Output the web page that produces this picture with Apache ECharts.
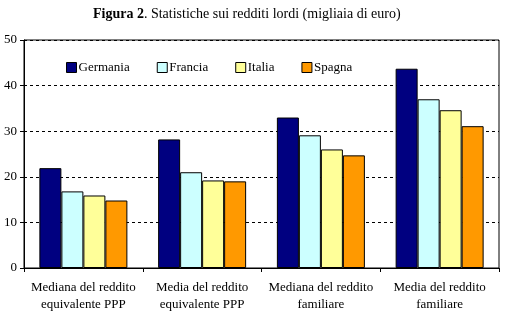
<!DOCTYPE html>
<html>
<head>
<meta charset="utf-8">
<script src="https://cdn.jsdelivr.net/npm/echarts@6/dist/echarts.min.js"></script>
<style>
  html, body { margin: 0; padding: 0; background: #fff; }
  #chart { width: 525px; height: 326px; }
</style>
</head>
<body>
<div id="chart"></div>
<script>
// Gross income statistics, thousands of euro
const categories = [
  'Mediana del reddito\nequivalente PPP',
  'Media del reddito\nequivalente PPP',
  'Mediana del reddito\nfamiliare',
  'Media del reddito\nfamiliare'
];
const germania = [21.9, 28.2, 33.0, 43.7];
const francia  = [16.8, 21.0, 29.1, 37.0];
const italia   = [15.9, 19.2, 26.0, 34.6];
const spagna   = [14.8, 19.0, 24.7, 31.1];
const yTicks = { min: 0, max: 50, interval: 10 };

const seriesDefs = [
  { name: 'Germania', data: germania, color: '#000080' },
  { name: 'Francia',  data: francia,  color: '#CCFFFF' },
  { name: 'Italia',   data: italia,   color: '#FFFF99' },
  { name: 'Spagna',   data: spagna,   color: '#FF9900' }
];

const font = '"Liberation Serif", "Times New Roman", serif';
const chart = echarts.init(document.getElementById('chart'), null, { renderer: 'canvas' });

chart.setOption({
  animation: false,
  backgroundColor: '#fff',
  textStyle: { fontFamily: font, color: '#000' },
  title: {
    text: '{b|Figura 2}{n|. Statistiche sui redditi lordi (migliaia di euro)}',
    left: 93,
    top: 7,
    padding: 0,
    textStyle: {
      fontWeight: 'normal',
      rich: {
        b: { fontFamily: font, fontSize: 14, fontWeight: 'bold', color: '#000' },
        n: { fontFamily: font, fontSize: 14, fontWeight: 'normal', color: '#000' }
      }
    }
  },
  legend: {
    left: 66,
    top: 61,
    padding: 0,
    itemWidth: 10,
    itemHeight: 10,
    itemGap: 27,
    icon: 'rect',
    textStyle: { fontFamily: font, fontSize: 13, color: '#000', padding: [0, 0, 0, -3] },
    data: seriesDefs.map(s => ({ name: s.name, itemStyle: { borderColor: '#000', borderWidth: 1 } }))
  },
  grid: {
    left: 24, right: 26, top: 40, bottom: 58,
    show: true, borderColor: '#000', borderWidth: 1, backgroundColor: 'transparent'
  },
  xAxis: {
    type: 'category',
    data: categories,
    axisLine: { lineStyle: { color: '#000', width: 1 } },
    axisTick: { show: true, length: 4, lineStyle: { color: '#000' } },
    axisLabel: { fontFamily: font, fontSize: 13, color: '#000', lineHeight: 17, margin: 11, interval: 0 }
  },
  yAxis: {
    type: 'value',
    min: yTicks.min, max: yTicks.max, interval: yTicks.interval,
    axisLine: { show: true, lineStyle: { color: '#000', width: 1 } },
    axisTick: { show: true, length: 4, lineStyle: { color: '#000' } },
    axisLabel: { fontFamily: font, fontSize: 13, color: '#000', margin: 7 },
    splitLine: { show: true, lineStyle: { color: '#000', type: [3, 3], width: 1 } }
  },
  series: seriesDefs.map(s => ({
    name: s.name,
    type: 'bar',
    data: s.data,
    barWidth: 22,
    barGap: '0%',
    itemStyle: { color: s.color, borderColor: '#000', borderWidth: 1 }
  }))
});
</script>
</body>
</html>
